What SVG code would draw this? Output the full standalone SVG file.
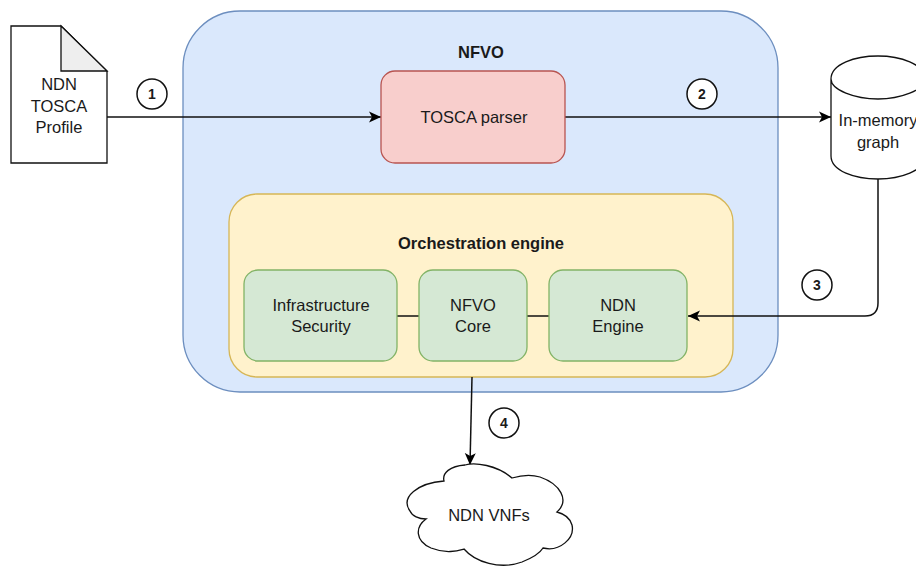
<svg xmlns="http://www.w3.org/2000/svg" width="916" height="567" viewBox="0 0 916 567">
<defs>
<marker id="arrow" markerUnits="userSpaceOnUse" markerWidth="14" markerHeight="12" refX="12" refY="6" orient="auto"><path d="M0,0.5 L12,6 L0,11.500 L3,6 Z" fill="#000"/></marker>
</defs>
<style>
text{font-family:"Liberation Sans",Arial,sans-serif;font-size:16.500px;fill:#1a1a1a;text-anchor:middle}
.b{font-weight:bold}
.n{font-size:14px;font-weight:bold}
.g{fill:#d5e8d4;stroke:#82b366;stroke-width:1.300}
.s{fill:#fff;stroke:#111;stroke-width:1.300}
.c{fill:none;stroke:#111;stroke-width:1.500}
.o{fill:#fff;stroke:#111;stroke-width:1.500}
</style>
<rect width="916" height="567" fill="#fff"/>
<g id="nfvo"><rect x="183" y="11" width="595" height="381" rx="57" fill="#dae8fc" stroke="#6c8ebf" stroke-width="1.300"/><text class="b" x="481" y="58">NFVO</text></g>
<g id="orchestration-engine"><rect x="229" y="194" width="504" height="183" rx="28" fill="#fff2cc" stroke="#d6b656" stroke-width="1.300"/><text class="b" x="481" y="249">Orchestration engine</text></g>
<g id="connectors">
<path class="c" d="M107,117 H381" marker-end="url(#arrow)"/>
<path class="c" d="M565,117 H831" marker-end="url(#arrow)"/>
<path class="c" d="M878,179 V303 Q878,316 865,316 H688" marker-end="url(#arrow)"/>
<path class="c" d="M472,377 L470,465" marker-end="url(#arrow)"/>
<path class="c" d="M397,316 H419"/>
<path class="c" d="M527,316 H549"/>
</g>
<g id="profile"><path class="s" d="M11,26 H61 L107,71 V163 H11 Z"/><path d="M61,26 L107,71 H61 Z" fill="#eee" stroke="#111" stroke-width="1.300"/><text x="59" y="90">NDN</text><text x="59" y="112">TOSCA</text><text x="59" y="133">Profile</text></g>
<g id="tosca-parser"><rect x="381" y="71" width="184" height="92" rx="14" fill="#f8cecc" stroke="#b85450" stroke-width="1.300"/><text x="474" y="123">TOSCA parser</text></g>
<g id="graph"><path class="s" d="M831,79 V156 C831,171 855,179 878,179 C900,179 925,171 925,156 V79 C925,64 900,56 878,56 C855,56 831,64 831,79 C831,90 855,99 878,99 C900,99 925,90 925,79"/><text x="878" y="126">In-memory</text><text x="878" y="148">graph</text></g>
<g id="infrastructure-security"><rect class="g" x="244" y="270" width="153" height="91" rx="14"/><text x="321" y="311">Infrastructure</text><text x="321" y="332">Security</text></g>
<g id="nfvo-core"><rect class="g" x="419" y="270" width="108" height="91" rx="14"/><text x="473" y="311">NFVO</text><text x="473" y="332">Core</text></g>
<g id="ndn-engine"><rect class="g" x="549" y="270" width="138" height="91" rx="14"/><text x="618" y="311">NDN</text><text x="618" y="332">Engine</text></g>
<g id="ndn-vnfs"><path class="s" d="M444,481 C418,483 400,497 410,511 C412,516 419,519 426,519 C415,527 415,541 431,548 C446,554 457,551 464,549 C475,562 500,570 522,562 C532,558 540,553 543,548 C560,552 575,538 572,525 C570,518 565,514 557,512 C570,500 560,484 540,477 C530,474 522,475 512,478 C497,465 475,462 465,465 C450,466 442,473 444,481 Z"/><text x="489" y="521">NDN VNFs</text></g>
<g id="badge-1"><circle class="o" cx="152" cy="94" r="15"/><text class="n" x="152" y="99">1</text></g>
<g id="badge-2"><circle class="o" cx="702" cy="94" r="15"/><text class="n" x="702" y="99">2</text></g>
<g id="badge-3"><circle class="o" cx="817" cy="285" r="15"/><text class="n" x="817" y="290">3</text></g>
<g id="badge-4"><circle class="o" cx="504" cy="423" r="15"/><text class="n" x="504" y="428">4</text></g>
</svg>
